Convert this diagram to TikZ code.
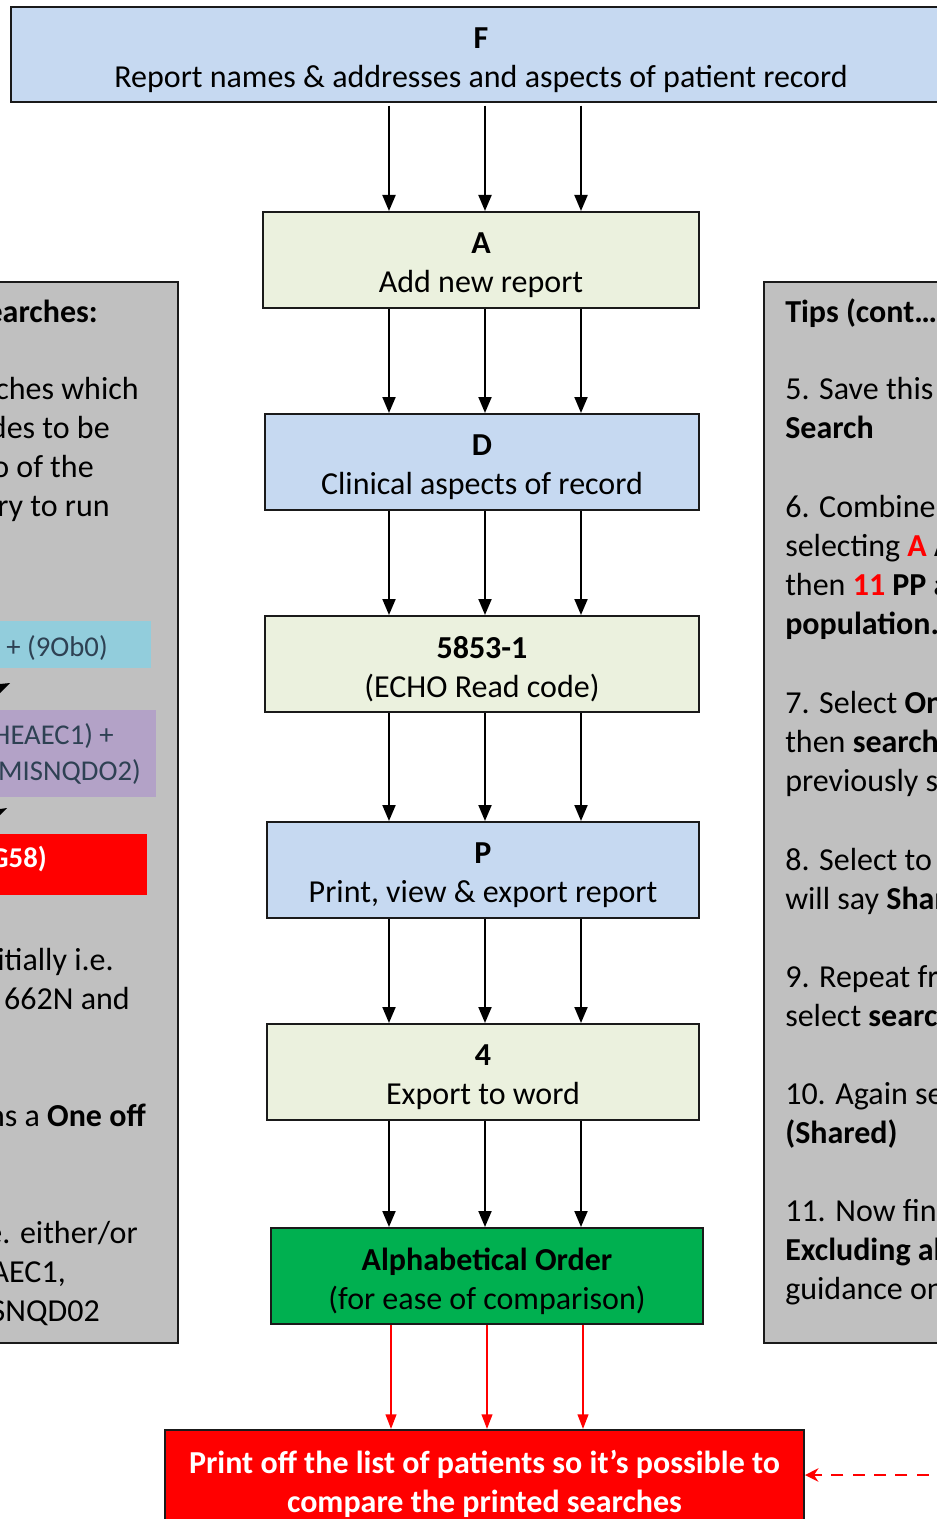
\documentclass[tikz,border=0pt]{standalone}
\usepackage{fontspec}
\setmainfont{Carlito}
\usetikzlibrary{arrows.meta,calc}
\definecolor{lblue}{HTML}{C6D9F1}
\definecolor{lgreen}{HTML}{EBF1DE}
\definecolor{dgreen}{HTML}{00B050}
\definecolor{pgray}{HTML}{C0C0C0}
\definecolor{scyan}{HTML}{92CDDC}
\definecolor{spurple}{HTML}{B3A2C7}
\definecolor{stext}{HTML}{2E4153}
\definecolor{bordc}{HTML}{1A1A1A}
\newcommand{\lowr}[1]{\raisebox{-4pt}[\height][\depth]{#1}}
\newcommand{\lowrr}[1]{\raisebox{-1.5pt}[\height][\depth]{#1}}
\tikzset{
  flowbox/.style={draw=bordc, line width=1.5pt, align=center, inner sep=0pt,
    font=\fontsize{24}{29.3}\selectfont},
  arr/.style={-{Triangle[width=9.75pt,length=12pt]}, line width=1.5pt, draw=black},
  rarr/.style={-{Triangle[width=8pt,length=11pt]}, line width=1.5pt, draw=red, fill=red},
  panel/.style={draw=bordc, fill=pgray, line width=1.5pt, inner sep=0pt},
  ptext/.style={font=\fontsize{24}{29.3}\selectfont, inner sep=0pt},
  stripfont/.style={font=\fontsize{21.5}{26}\selectfont, inner sep=0pt, anchor=base east},
  ltext/.style={ptext, anchor=base east},
  rtext/.style={ptext, anchor=base west},
}
\begin{document}
\begin{tikzpicture}[x=0.75pt,y=-0.75pt]
\useasboundingbox (0,0) rectangle (937,1519);

% side panels
\node[panel, anchor=north east, minimum width=149.25pt, minimum height=795.75pt] (LP) at (179,281) {};
\node[panel, anchor=north west, minimum width=150pt, minimum height=795.75pt] (RP) at (763,281) {};

% coloured strips in left panel
\fill[scyan] (-10,621) rectangle (151,668);
\fill[spurple] (-10,710) rectangle (156,797);
\fill[red] (-10,834) rectangle (147,895);
\fill[black] (0,684) -- (10,683) -- (0,693) -- cycle;
\fill[black] (0,809) -- (7,808) -- (0,815) -- cycle;

% left panel text
\node[ltext] (l1) at (98,322) {\textbf{earches:}};
\node[ltext] (l2) at (139,399) {ches which};
\node[ltext] (l3) at (110,438) {des to be};
\node[ltext] (l4) at (94,477) {o of the};
\node[ltext] (l5) at (110,516) {ry to run};
\node[stripfont, text=stext] (l6) at (108,656) {+ (9Ob0)};
\node[stripfont, text=stext] (l7) at (114,744) {HEAEC1) +};
\node[stripfont, text=stext] (l8) at (141,780) {MISNQDO2)};
\node[stripfont, text=white] (l9) at (47,867) {\textbf{G58)}};
\node[ltext] (l10) at (114,970) {itially i.e.};
\node[ltext] (l11) at (130,1009) {662N and};
\node[ltext] (l12) at (146,1126) {ns a \textbf{One off}};
\node[ltext] (l13) at (138,1243) {e. either/or};
\node[ltext] (l14) at (66,1282) {AEC1,};
\node[ltext] (l15) at (100,1321) {SNQD02};

% right panel text
\node[rtext] (r1) at (785,322) {\textbf{Tips (cont…}};
\node[rtext] (r2) at (785,399) {5. Save this};
\node[rtext] (r3) at (785,438) {\textbf{Search}};
\node[rtext] (r4) at (785,517) {6. Combine};
\node[rtext] (r5) at (785,556) {selecting \textbf{\textcolor{red}{A} A}};
\node[rtext] (r6) at (785,595) {then \textbf{\textcolor{red}{11} PP a}};
\node[rtext] (r7) at (785,634) {\textbf{population.}};
\node[rtext] (r8) at (785,713) {7. Select \textbf{On}};
\node[rtext] (r9) at (785,752) {then \textbf{search}};
\node[rtext] (r10) at (785,791) {previously s};
\node[rtext] (r11) at (785,870) {8. Select to};
\node[rtext] (r12) at (785,909) {will say \textbf{Shar}};
\node[rtext] (r13) at (785,987) {9. Repeat fr};
\node[rtext] (r14) at (785,1026) {select \textbf{searc}};
\node[rtext] (r15) at (785,1104) {10. Again se};
\node[rtext] (r16) at (785,1143) {\textbf{(Shared)}};
\node[rtext] (r17) at (785,1221) {11. Now fini};
\node[rtext] (r18) at (785,1260) {\textbf{Excluding al}};
\node[rtext] (r19) at (785,1299) {guidance on};

% flow boxes
\node[flowbox, fill=lblue, minimum width=705pt, minimum height=71.25pt] (F) at (481,54.5)
  {\lowr{\textbf{F}}\\\lowr{Report names \& addresses and aspects of patient record}};
\node[flowbox, fill=lgreen, minimum width=327pt, minimum height=72pt] (A) at (481,260)
  {\lowr{\textbf{A}}\\\lowr{Add new report}};
\node[flowbox, fill=lblue, minimum width=325.5pt, minimum height=72pt] (D) at (482,462)
  {\lowr{\textbf{D}}\\\lowr{Clinical aspects of record}};
\node[flowbox, fill=lgreen, minimum width=325.5pt, minimum height=72pt] (E) at (482,664)
  {\lowr{\textbf{5853-1}}\\\lowr{(ECHO Read code)}};
\node[flowbox, fill=lblue, minimum width=324pt, minimum height=72pt] (P) at (483,870)
  {\lowr{\textbf{P}}\\\lowr{Print, view \& export report}};
\node[flowbox, fill=lgreen, minimum width=324pt, minimum height=72pt] (W) at (483,1072)
  {\lowr{\textbf{4}}\\\lowr{Export to word}};
\node[flowbox, fill=dgreen, minimum width=324pt, minimum height=72pt] (O) at (487,1276)
  {\lowr{\textbf{Alphabetical Order}}\\\lowr{(for ease of comparison)}};
\node[flowbox, fill=red, text=white, minimum width=479.25pt, minimum height=77.25pt] (R) at (484.5,1481.5)
  {\lowrr{\textbf{Print off the list of patients so it’s possible to}}\\\lowrr{\textbf{compare the printed searches}}};

% arrow columns
\coordinate (x1) at (389,0);
\coordinate (x2) at (485,0);
\coordinate (x3) at (581,0);
\coordinate (y1) at (391,0);
\coordinate (y2) at (487,0);
\coordinate (y3) at (583,0);

\foreach \c in {x1,x2,x3}{
  \draw[arr] ([yshift=-2pt]F.south -| \c) -- (A.north -| \c);
  \draw[arr] (A.south -| \c) -- (D.north -| \c);
  \draw[arr] (D.south -| \c) -- (E.north -| \c);
  \draw[arr] (E.south -| \c) -- (P.north -| \c);
  \draw[arr] (P.south -| \c) -- (W.north -| \c);
  \draw[arr] (W.south -| \c) -- (O.north -| \c);
}
\foreach \c in {y1,y2,y3}{
  \draw[rarr] (O.south -| \c) -- (R.north -| \c);
}

% dashed return arrow
\coordinate (dstart) at (950,1475);
\draw[red, line width=2pt, dash pattern=on 9pt off 7pt, -{Stealth[width=10pt,length=10pt]}]
  (dstart) -- (dstart -| R.east);
\end{tikzpicture}
\end{document}
